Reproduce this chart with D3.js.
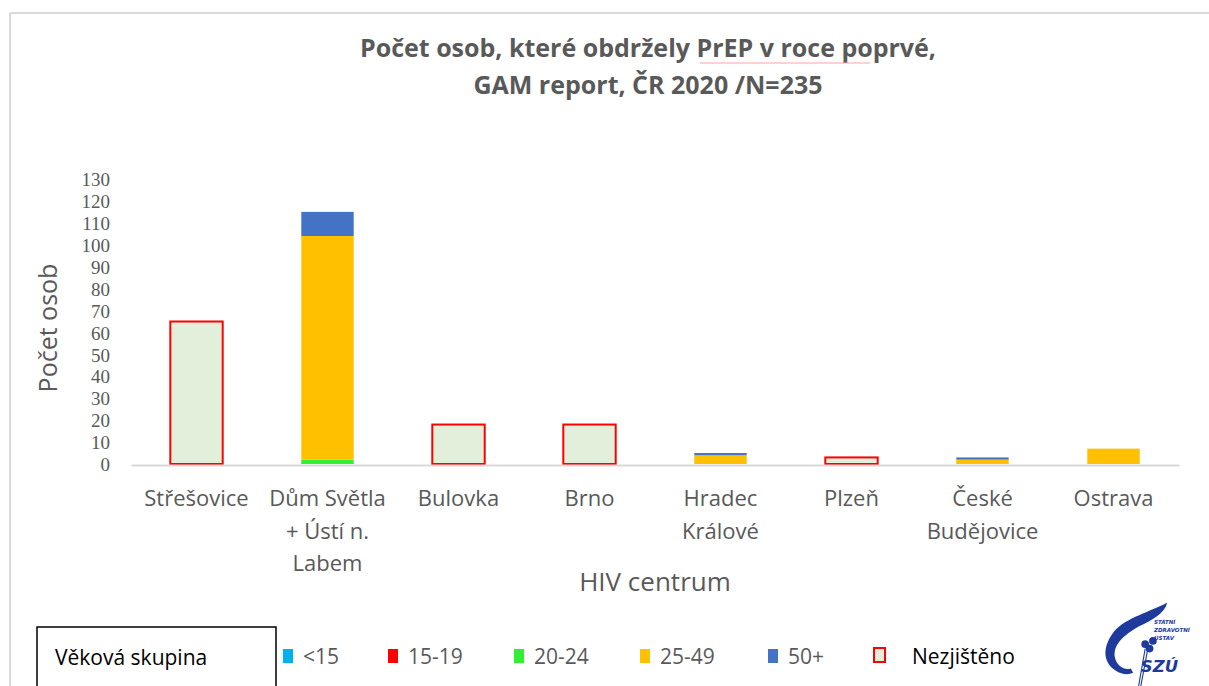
<!DOCTYPE html>
<html>
<head>
<meta charset="utf-8">
<script src="https://cdn.jsdelivr.net/npm/d3@7"></script>
<style>
  html, body { margin: 0; padding: 0; background: #fff; }
  svg { display: block; }
</style>
</head>
<body>
<svg id="chart" width="1209" height="686"></svg>
<script>
// --- data ---
const centers = ["Střešovice", "Dům Světla + Ústí n. Labem", "Bulovka", "Brno",
  "Hradec Králové", "Plzeň", "České Budějovice", "Ostrava"];
const centerLines = [["Střešovice"], ["Dům Světla", "+ Ústí n.", "Labem"], ["Bulovka"], ["Brno"],
  ["Hradec", "Králové"], ["Plzeň"], ["České", "Budějovice"], ["Ostrava"]];
const groups = ["<15", "15-19", "20-24", "25-49", "50+", "Nezjištěno"];
const under15 = [0, 0, 0, 0, 0, 0, 0, 0];
const age15to19 = [0, 0, 0, 0, 0, 0, 0, 0];
const age20to24 = [0, 2, 0, 0, 0, 0, 0, 0];
const age25to49 = [0, 102, 0, 0, 4, 0, 2, 7];
const age50plus = [0, 11, 0, 0, 1, 0, 1, 0];
const unknown = [65, 0, 18, 18, 0, 3, 0, 0];
const yTicks = [0, 10, 20, 30, 40, 50, 60, 70, 80, 90, 100, 110, 120, 130];

const colors = ["#00b0f0", "#ff0000", "#33ee33", "#ffc000", "#4472c4", "#e2efda"];

const svg = d3.select("#chart");
const W = 1209, H = 686;

// chart frame (light gray, top + left)
svg.append("line").attr("x1", 10).attr("x2", W).attr("y1", 13).attr("y2", 13)
  .attr("stroke", "#d9d9d9").attr("stroke-width", 2);
svg.append("line").attr("x1", 10).attr("x2", 10).attr("y1", 13).attr("y2", H)
  .attr("stroke", "#d9d9d9").attr("stroke-width", 2);

// title
const title = svg.append("text")
  .attr("text-anchor", "middle")
  .attr("font-family", "'Open Sans', sans-serif")
  .attr("font-weight", "bold")
  .attr("font-size", 25)
  .attr("fill", "#595959");
title.append("tspan").attr("x", 648).attr("y", 57).text("Počet osob, které obdržely PrEP v roce poprvé,");
title.append("tspan").attr("x", 648).attr("y", 94).text("GAM report, ČR 2020 /N=235");
// spell-check squiggle under "PrEP v roce"
svg.append("line").attr("x1", 700).attr("x2", 870).attr("y1", 63).attr("y2", 63)
  .attr("stroke", "#f4a6a6").attr("stroke-width", 1);

// scales
const x0 = 131, x1 = 1179, yBase = 464, yTop = 179;
const x = d3.scaleBand().domain(centers).range([x0, x1]).paddingInner(0.6).paddingOuter(0.3);
const y = d3.scaleLinear().domain([0, 130]).range([yBase, yTop]);

// stacked series
const table = centers.map((c, i) => ({
  center: c,
  "<15": under15[i], "15-19": age15to19[i], "20-24": age20to24[i],
  "25-49": age25to49[i], "50+": age50plus[i], "Nezjištěno": unknown[i]
}));
const series = d3.stack().keys(groups)(table);

// y axis
const yAxis = d3.axisLeft(y).tickValues(yTicks).tickSize(0).tickPadding(0);
const gy = svg.append("g").attr("transform", "translate(110,0)").call(yAxis);
gy.select(".domain").remove();
gy.selectAll("text")
  .attr("font-family", "'Liberation Serif', 'Times New Roman', serif")
  .attr("font-size", 19)
  .attr("fill", "#595959")
  .attr("dy", "0.35em");

// bars
series.forEach((s, k) => {
  const isUnknown = s.key === "Nezjištěno";
  svg.append("g").selectAll("rect")
    .data(s.filter(d => d[1] - d[0] > 0))
    .join("rect")
    .attr("x", d => x(d.data.center))
    .attr("width", x.bandwidth())
    .attr("y", d => y(d[1]))
    .attr("height", d => y(d[0]) - y(d[1]))
    .attr("fill", colors[k])
    .attr("stroke", isUnknown ? "#ff0000" : "none")
    .attr("stroke-width", isUnknown ? 2 : 0);
});

// x axis line
const xAxis = d3.axisBottom(x).tickSize(0).tickFormat("");
const gx = svg.append("g").attr("transform", `translate(0,${yBase + 1})`).call(xAxis);
gx.select(".domain").attr("stroke", "#d9d9d9").attr("stroke-width", 2);

// x category labels (multi-line)
centers.forEach((c, i) => {
  const t = svg.append("text")
    .attr("text-anchor", "middle")
    .attr("font-family", "'Open Sans', sans-serif")
    .attr("font-size", 22)
    .attr("fill", "#595959");
  centerLines[i].forEach((line, j) => {
    t.append("tspan")
      .attr("x", x(c) + x.bandwidth() / 2)
      .attr("y", 506 + j * 32.5)
      .text(line);
  });
});

// axis titles
svg.append("text")
  .attr("x", 655).attr("y", 591)
  .attr("text-anchor", "middle")
  .attr("font-family", "'Open Sans', sans-serif")
  .attr("font-size", 26)
  .attr("fill", "#595959")
  .text("HIV centrum");

svg.append("text")
  .attr("transform", "translate(57,328) rotate(-90)")
  .attr("text-anchor", "middle")
  .attr("font-family", "'Open Sans', sans-serif")
  .attr("font-size", 25)
  .attr("fill", "#595959")
  .text("Počet osob");

// legend
svg.append("rect").attr("x", 37).attr("y", 627).attr("width", 239).attr("height", 70)
  .attr("fill", "none").attr("stroke", "#000").attr("stroke-width", 1.5);
svg.append("text").attr("x", 55).attr("y", 665)
  .attr("font-family", "'Open Sans', sans-serif").attr("font-size", 21)
  .attr("fill", "#000").text("Věková skupina");

const legendX = [283, 388, 514, 640, 768, 874];
groups.forEach((g, k) => {
  const isUnknown = g === "Nezjištěno";
  svg.append("rect")
    .attr("x", legendX[k]).attr("y", isUnknown ? 648 : 649)
    .attr("width", isUnknown ? 11 : 10).attr("height", 14)
    .attr("fill", colors[k])
    .attr("stroke", isUnknown ? "#ff0000" : "none")
    .attr("stroke-width", 2);
  svg.append("text")
    .attr("x", legendX[k] + (isUnknown ? 38 : 20)).attr("y", 664)
    .attr("font-family", "'Open Sans', sans-serif").attr("font-size", 21)
    .attr("fill", isUnknown ? "#000" : "#595959")
    .text(g);
});

// logo (SZÚ)
const logo = svg.append("g").attr("transform", "translate(1088,598) scale(1.1)").attr("fill", "#1e3a9c");
logo.append("path")
  .attr("d", "M72,4 C58,12 34,18 24,30 C13,44 13,58 25,66 C31,70 37,70 41,68 L39,64 C33,66 27,62 25,56 C21,44 32,34 46,26 C58,20 70,14 72,4 Z");
logo.append("circle").attr("cx", 52).attr("cy", 42).attr("r", 3.5);
logo.append("circle").attr("cx", 59).attr("cy", 39).attr("r", 3.5);
logo.append("circle").attr("cx", 56).attr("cy", 46).attr("r", 3.5);
logo.append("line").attr("x1", 52).attr("y1", 46).attr("x2", 46).attr("y2", 80)
  .attr("stroke", "#1e3a9c").attr("stroke-width", 1);
logo.append("line").attr("x1", 54).attr("y1", 48).attr("x2", 48).attr("y2", 80)
  .attr("stroke", "#1e3a9c").attr("stroke-width", 1);
logo.append("text").attr("x", 48).attr("y", 67)
  .attr("font-family", "'DejaVu Sans', sans-serif").attr("font-weight", "bold")
  .attr("font-style", "italic").attr("font-size", 15).text("SZÚ");
["STÁTNÍ", "ZDRAVOTNÍ", "ÚSTAV"].forEach((s, i) => {
  logo.append("text").attr("x", 60).attr("y", 24 + i * 7)
    .attr("font-family", "'DejaVu Sans', sans-serif").attr("font-weight", "bold")
    .attr("font-style", "italic").attr("font-size", 5).text(s);
});
</script>
</body>
</html>
